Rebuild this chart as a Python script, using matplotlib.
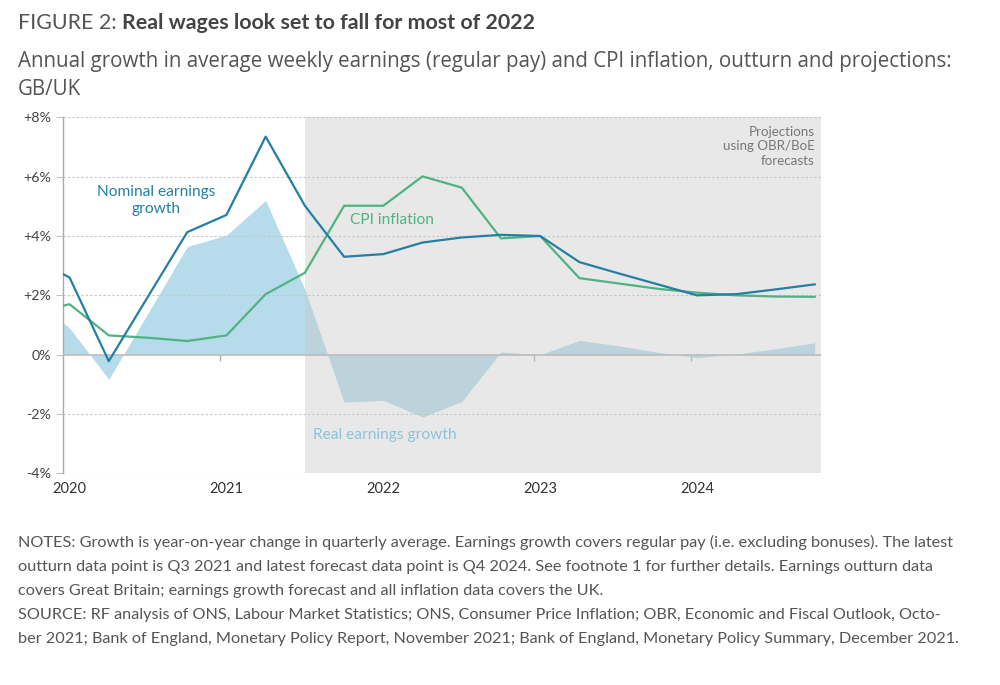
import numpy as np
import matplotlib.pyplot as plt

# quarterly series, Q4 2019 .. Q4 2024 (first point only lead-in, clipped at 2020)
years = [2019] + [y for y in range(2020, 2025) for _ in range(4)]
quarters = [4] + [1, 2, 3, 4] * 5
nominal = [3.30, 2.60, -0.22, 1.96, 4.13, 4.71, 7.35, 5.02, 3.30, 3.39, 3.78, 3.95, 4.04,
           4.00, 3.12, 2.74, 2.37, 2.00, 2.04, 2.20, 2.37]
cpi = [1.40, 1.70, 0.65, 0.57, 0.46, 0.65, 2.04, 2.76, 5.02, 5.02, 6.01, 5.63, 3.92,
       4.00, 2.58, 2.40, 2.22, 2.09, 2.00, 1.96, 1.95]
real = [1.90, 0.90, -0.83, 1.40, 3.64, 4.03, 5.20, 2.20, -1.60, -1.54, -2.10, -1.58, 0.09,
        0.00, 0.48, 0.30, 0.08, -0.10, 0.02, 0.20, 0.40]
year_labels = ["2020", "2021", "2022", "2023", "2024"]
yticks = [-4, -2, 0, 2, 4, 6, 8]
ytick_labels = ["-4%", "-2%", "0%", "+2%", "+4%", "+6%", "+8%"]

x = np.array(years) + (np.array(quarters) - 1) / 4 + 0.04
proj_start = 2021 + 2 / 4 + 0.04  # Q3 2021, latest outturn

plt.rcParams['font.family'] = ['Lato', 'DejaVu Sans']

fig = plt.figure(figsize=(10, 6.85), dpi=100)
ax = fig.add_axes([0.0633, 0.309, 0.7577, 0.5197])

ax.fill_between(x, 0, real, color="#b6dcec", lw=0, zorder=1)
ax.axvspan(proj_start, 2024.83, color="#c6c6c6", alpha=0.4, lw=0, zorder=2)
ax.plot(x, cpi, color="#4fb381", lw=1.6, zorder=5)
ax.plot(x, nominal, color="#257fa3", lw=1.6, zorder=5)

ax.set_xlim(2020, 2024.83)
ax.set_ylim(-4, 8)
ax.set_yticks(yticks)
ax.set_yticklabels(ytick_labels)
for v in yticks:
    if v != 0:
        ax.axhline(v, color="#c4c4c4", lw=0.8, ls=(0, (2, 2)), zorder=3)
ax.axhline(0, color="#bcbcbc", lw=1.2, zorder=4)

for s in ["top", "right", "bottom"]:
    ax.spines[s].set_visible(False)
ax.spines["left"].set_color("#aaaaaa")
ax.spines["left"].set_linewidth(1.0)
ax.tick_params(axis="y", length=5, color="#c4c4c4", labelsize=10.3, labelcolor="#444444", pad=4)

ax.set_xticks([int(y) + 0.04 for y in year_labels])
ax.set_xticklabels(year_labels)
ax.tick_params(axis="x", length=0, labelsize=10.5, labelcolor="#333333", pad=6)

sec = ax.secondary_xaxis(1 / 3)
sec.set_xticks([int(y) for y in year_labels[1:]])
sec.set_xticklabels([])
sec.tick_params(length=4, color="#aaaaaa", width=1)
sec.spines["bottom"].set_visible(False)

ax.text(2020.59, 5.2, "Nominal earnings\ngrowth", color="#257fa3", fontsize=11.2,
        ha="center", va="center", linespacing=1.25, zorder=6)
ax.text(2021.83, 4.55, "CPI inflation", color="#4fb381", fontsize=11.2,
        ha="left", va="center", zorder=6)
ax.text(2021.59, -2.7, "Real earnings growth", color="#8ec3da", fontsize=11.2,
        ha="left", va="center", zorder=6)
ax.text(2024.79, 7.72, "Projections\nusing OBR/BoE\nforecasts", color="#777777",
        fontsize=9.6, ha="right", va="top", linespacing=1.25, zorder=6)

t1 = fig.text(0.018, 0.9577, "FIGURE 2: ", fontsize=15.4, color="#555555", va="baseline")
fig.canvas.draw()
ax.annotate("Real wages look set to fall for most of 2022", xy=(1, 0), xycoords=t1,
            fontsize=15.4, color="#444444", fontweight="bold", va="bottom",
            annotation_clip=False)
fig.text(0.018, 0.902, "Annual growth in average weekly earnings (regular pay) and CPI inflation, "
         "outturn and projections:", fontsize=14.8, color="#555555", va="baseline",
         family=["Open Sans", "DejaVu Sans"])
fig.text(0.018, 0.861, "GB/UK", fontsize=14.8, color="#555555", va="baseline",
         family=["Open Sans", "DejaVu Sans"])

notes = [
    "NOTES: Growth is year-on-year change in quarterly average. Earnings growth covers regular pay "
    "(i.e. excluding bonuses). The latest",
    "outturn data point is Q3 2021 and latest forecast data point is Q4 2024. See footnote 1 for "
    "further details. Earnings outturn data",
    "covers Great Britain; earnings growth forecast and all inflation data covers the UK.",
    "SOURCE: RF analysis of ONS, Labour Market Statistics; ONS, Consumer Price Inflation; OBR, "
    "Economic and Fiscal Outlook, Octo-",
    "ber 2021; Bank of England, Monetary Policy Report, November 2021; Bank of England, Monetary "
    "Policy Summary, December 2021.",
]
for i, line in enumerate(notes):
    fig.text(0.018, 1 - (547 + 24 * i) / 685, line, fontsize=11.7, color="#555555", va="baseline")

fig.savefig("out.png", dpi=100)
plt.close()
